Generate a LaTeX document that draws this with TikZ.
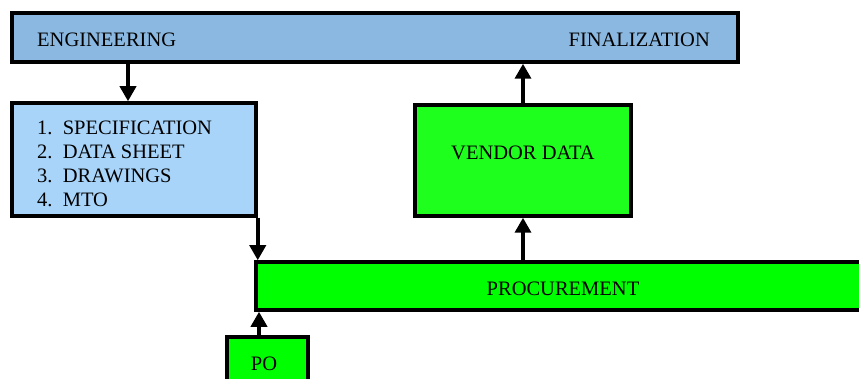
\documentclass[tikz,border=0pt]{standalone}
\usepackage{fontspec}
\setmainfont{Liberation Serif}
\usetikzlibrary{arrows.meta,calc}

\definecolor{engblue}{RGB}{138,184,224}
\definecolor{specblue}{RGB}{168,212,250}
\definecolor{procgreen}{RGB}{0,255,0}
\definecolor{vendgreen}{RGB}{30,255,30}

\tikzset{
	box/.style={draw=black, line width=3.5pt, inner sep=0pt},
	lbl/.style={font=\fontsize{20.5}{24}\selectfont, inner sep=0pt},
	flow/.style={line width=3.5pt, -{Triangle[width=16pt,length=15pt]}},
}

\begin{document}
\begin{tikzpicture}[x=1pt, y=-1pt, line join=miter]
		% Page window (pixels of the original)
		\def\xmin{0} \def\xmax{859}
		\def\ymin{0} \def\ymax{379}
		\useasboundingbox[fill=white] (\xmin,\ymin) rectangle (\xmax,\ymax);
		
		\begin{scope}
			\clip (\xmin,\ymin) rectangle (\xmax,\ymax);
			
			% Top bar
			\node[box, fill=engblue, minimum width=726pt, minimum height=49pt] (eng) at (375,37.5) {};
			\node[lbl, anchor=west] (engtxt) at (37,40) {ENGINEERING};
			\node[lbl, anchor=east] (fintxt) at (710,40) {FINALIZATION};
			
			% Engineering documents
			\node[box, fill=specblue, minimum width=244pt, minimum height=113pt] (spec) at (134,159.5) {};
			\node[lbl, anchor=west, align=left] (spectxt) at (37,164)
			{1.\ \ SPECIFICATION\\2.\ \ DATA SHEET\\3.\ \ DRAWINGS\\4.\ \ MTO};
			
			% Vendor data
			\node[box, fill=vendgreen, minimum width=216pt, minimum height=111pt] (vendor) at (523,160.5) {};
			\node[lbl] (vendtxt) at (523,153) {VENDOR DATA};
			
			% Procurement bar, running off the right edge
			\node[box, fill=procgreen, minimum width=616pt, minimum height=48pt] (proc) at (564,286) {};
			\node[lbl] (proctxt) at (563,289) {PROCUREMENT};
			
			% Purchase order
			\node[box, fill=procgreen, minimum width=81pt, minimum height=54pt] (po) at (267.5,364) {};
			\node[lbl] (potxt) at (264,364) {PO};
			
			% Connectors
			\draw[flow] ([xshift=-6pt]eng.south -| spec.north) -- ([xshift=-6pt]spec.north);
			\draw[flow] (spec.south east) -- (spec.south east |- proc.north);
			\draw[flow] ([xshift=-8.5pt]po.north) -- ([xshift=-8.5pt]po.north |- proc.south);
			\draw[flow] (proc.north -| vendor.south) -- (vendor.south);
			\draw[flow] (vendor.north) -- (vendor.north |- eng.south);
		\end{scope}
	\end{tikzpicture}
\end{document}
